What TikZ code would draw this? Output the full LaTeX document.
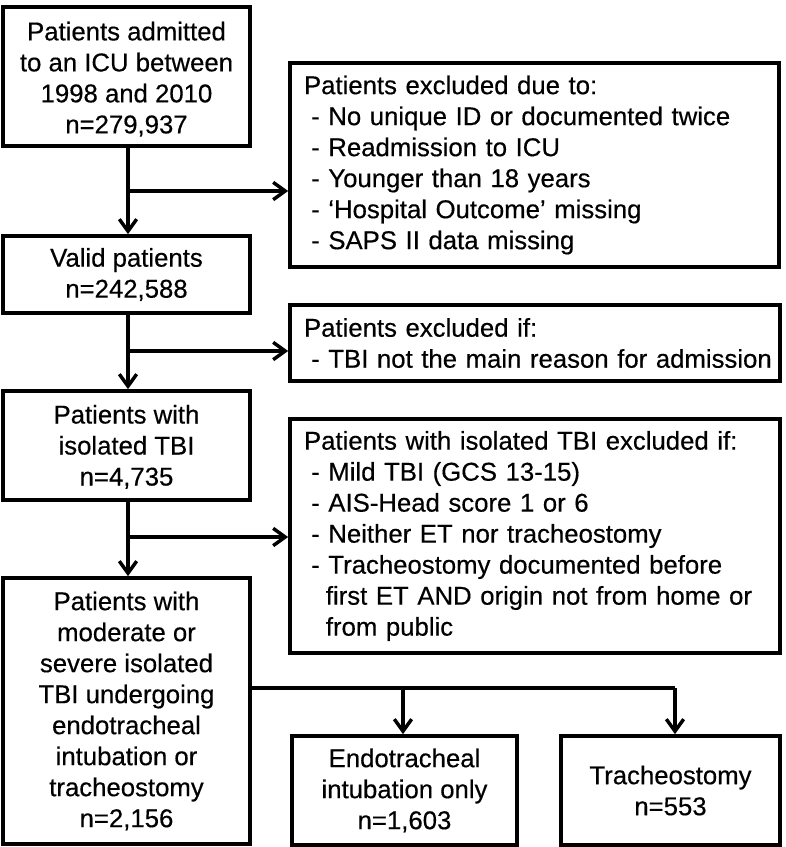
\documentclass[tikz,border=0pt]{standalone}
\usepackage{fontspec}
\setmainfont{Liberation Sans}[FakeBold=0.4]
\usetikzlibrary{arrows.meta}
\newcommand{\myline}[1]{\mbox{#1}}
\begin{document}
\begin{tikzpicture}[x=0.75pt,y=-0.75pt,
  box/.style={draw=black,line width=2.8pt,fill=white,align=center,inner sep=0pt,
    font=\fontsize{19.3pt}{23.25pt}\selectfont},
  lbox/.style={box,minimum width=185.25pt},
  xbox/.style={draw=black,line width=2.8pt,fill=white,align=left,inner xsep=10.5pt,inner ysep=0pt,
    font=\fontsize{19.3pt}{23.25pt}\selectfont},
  conn/.style={line width=2.6pt,draw=black},
  arr/.style={conn,-{Straight Barb[length=9pt,width=13pt,line width=2.6pt]}}
]
\useasboundingbox (0,0) rectangle (786,847);
\fill[white] (0,0) rectangle (786,847);

\node[lbox,minimum height=104.25pt] (b1) at (126.5,76.5)
  {\rule{0pt}{18pt}Patients admitted\\to an ICU between\\1998 and 2010\\n=279,937};
\node[xbox,text width=345.75pt,minimum height=153pt] (e1) at (534.5,165)
  {\myline{Patients excluded due to:}\\
   \myline{\hspace*{0.28em}- No unique ID or documented twice}\\
   \myline{\hspace*{0.28em}- Readmission to ICU}\\
   \myline{\hspace*{0.28em}- Younger than 18 years}\\
   \myline{\hspace*{0.28em}- ‘Hospital Outcome’ missing}\\
   \myline{\hspace*{0.28em}- SAPS II data missing}};
\node[lbox,minimum height=57.75pt] (b2) at (126.5,274.5)
  {Valid patients\\n=242,588};
\node[xbox,text width=346.5pt,minimum height=57pt] (e2) at (535,343)
  {\myline{Patients excluded if:}\\
   \myline{\hspace*{0.28em}- TBI not the main reason for admission}};
\node[lbox,minimum height=81.75pt] (b3) at (126.5,445.5)
  {\rule{0pt}{16pt}Patients with\\isolated TBI\\n=4,735};
\node[xbox,text width=346.5pt,minimum height=175.5pt] (e3) at (535,536)
  {\myline{Patients with isolated TBI excluded if:}\\
   \myline{\hspace*{0.28em}- Mild TBI (GCS 13-15)}\\
   \myline{\hspace*{0.28em}- AIS-Head score 1 or 6}\\
   \myline{\hspace*{0.28em}- Neither ET nor tracheostomy}\\
   \myline{\hspace*{0.28em}- Tracheostomy documented before}\\
   \myline{\hspace*{0.85em}first ET AND origin not from home or}\\
   \myline{\hspace*{0.85em}from public}};
\node[lbox,minimum height=199.5pt] (b4) at (126.5,711)
  {Patients with\\moderate or\\severe isolated\\TBI undergoing\\endotracheal\\intubation or\\tracheostomy\\n=2,156};
\node[box,minimum width=168.75pt,minimum height=81.75pt] (b5) at (404.5,790.5)
  {Endotracheal\\intubation only\\n=1,603};
\node[box,minimum width=164.25pt,minimum height=81.75pt] (b6) at (670.5,790.5)
  {Tracheostomy\\n=553};

% connectors
\coordinate (j1) at (128,191);
\coordinate (j2) at (128,351);
\coordinate (j3) at (128,537);
\draw[arr] (b1.south -| j1) -- (b2.north -| j1);
\draw[arr] (j1) -- (j1 -| e1.west);
\draw[arr] (b2.south -| j2) -- (b3.north -| j2);
\draw[arr] (j2) -- (j2 -| e2.west);
\draw[arr] (b3.south -| j3) -- (b4.north -| j3);
\draw[arr] (j3) -- (j3 -| e3.west);

\coordinate (t1) at (403,688);
\coordinate (t2) at (675,688);
\draw[conn] (b4.east |- t2) -- (t2);
\draw[arr] (t2) -- (t2 |- b6.north);
\draw[arr] (t1) -- (t1 |- b5.north);
\end{tikzpicture}
\end{document}
